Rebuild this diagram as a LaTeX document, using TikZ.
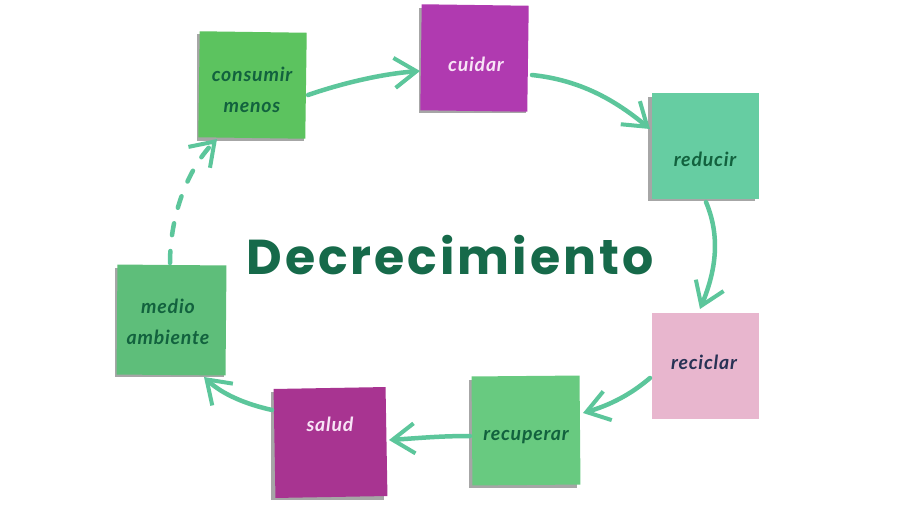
\documentclass[tikz,border=0pt]{standalone}
\usepackage{fontspec}
\setmainfont{Lato}
\newfontfamily\titlefont[LetterSpace=6]{Poppins}
\newfontfamily\labelfont[LetterSpace=4]{Lato}
\usetikzlibrary{arrows.meta}
\definecolor{cgreenA}{RGB}{92,195,95}
\definecolor{cmagA}{RGB}{176,58,176}
\definecolor{cteal}{RGB}{102,205,162}
\definecolor{cpink}{RGB}{232,182,206}
\definecolor{cgreenB}{RGB}{104,202,128}
\definecolor{cmagB}{RGB}{168,52,145}
\definecolor{cgreenC}{RGB}{94,190,122}
\definecolor{txtgreen}{RGB}{18,98,62}
\definecolor{txtlight}{RGB}{248,228,246}
\definecolor{txtnavy}{RGB}{40,50,85}
\definecolor{arrowc}{RGB}{92,198,155}
\definecolor{titlec}{RGB}{22,106,74}
\tikzset{
  note/.style={minimum width=107pt, minimum height=106pt, inner sep=0pt, draw=none},
  lbl/.style={font=\labelfont\bfseries\itshape\fontsize{19.5}{31}\selectfont, align=center, inner sep=0pt},
  conn/.style={draw=arrowc, line width=4.5pt, line cap=round,
    -{Straight Barb[length=22pt, width=30pt, line width=4pt]}},
  shade/.style={fill=black, opacity=0.35}
}
\begin{document}
\begin{tikzpicture}[x=1pt, y=-1pt]
\useasboundingbox (0,0) rectangle (900,506);
\fill[white] (0,0) rectangle (900,506);
% shadows
\fill[shade] (197,34) rectangle (304,141);
\fill[shade] (419,8) rectangle (526,113);
\fill[shade] (648,97) rectangle (755,201);
\fill[shade] (271,392) rectangle (384,500);
\fill[shade] (469,380) rectangle (577,488);
\fill[shade] (115,268) rectangle (224,377);
% boxes
\node[note, fill=cgreenA, rotate=-0.8] (cm) at (252.5,85) {};
\node[note, fill=cmagA, rotate=-0.8] (cu) at (474.5,58) {};
\node[note, fill=cteal] (re) at (705,145.5) {};
\node[note, fill=cpink] (rc) at (705,365.5) {};
\node[note, fill=cgreenB, minimum width=108pt, minimum height=109pt, rotate=0.5] (rp) at (526,430.5) {};
\node[note, fill=cmagB, minimum width=112pt, minimum height=109pt, rotate=1] (sa) at (330.5,442.5) {};
\node[note, fill=cgreenC, minimum width=109pt, minimum height=110pt, rotate=-0.5] (ma) at (171.5,320) {};
% labels
\node[lbl, text=txtgreen] (tcm) at (252,90) {consumir\\menos};
\node[lbl, text=txtlight] (tcu) at (476,64) {cuidar};
\node[lbl, text=txtgreen] (tre) at (705,159) {reducir};
\node[lbl, text=txtnavy] (trc) at (704,362) {reciclar};
\node[lbl, text=txtgreen] (trp) at (526,437) {recuperar};
\node[lbl, text=txtlight] (tsa) at (330,424) {salud};
\node[lbl, text=txtgreen] (tma) at (168,322) {medio\\ambiente};
% title
\node[font=\titlefont\bfseries\fontsize{49}{56}\selectfont, text=titlec, inner sep=0pt] (title) at (450,255) {Decrecimiento};
% connectors
\coordinate (a1s) at (308,95);
\coordinate (a1e) at (420,71);
\draw[conn] (a1s) .. controls (340,84) and (380,74) .. (a1e);
\coordinate (a2s) at (532,75);
\coordinate (a2e) at (650,129);
\draw[conn] (a2s) .. controls (580,80) and (615,100) .. (a2e);
\coordinate (a3s) at (706,202);
\coordinate (a3e) at (700,309);
\draw[conn] (a3s) .. controls (722,240) and (714,275) .. (a3e);
\coordinate (a4s) at (650,378);
\coordinate (a4e) at (583,413);
\draw[conn] (a4s) .. controls (630,395) and (610,405) .. (a4e);
\coordinate (a5s) at (470,436);
\coordinate (a5e) at (389,440);
\draw[conn] (a5s) .. controls (440,436) and (420,438) .. (a5e);
\coordinate (a6s) at (272,410);
\coordinate (a6e) at (204,377);
\draw[conn] (a6s) .. controls (245,404) and (222,394) .. (a6e);
\coordinate (a7s) at (170,263);
\coordinate (a7e) at (217,139);
\draw[conn, dash pattern=on 12pt off 16pt] (a7s) .. controls (170,220) and (185,172) .. (a7e);
\end{tikzpicture}
\end{document}
